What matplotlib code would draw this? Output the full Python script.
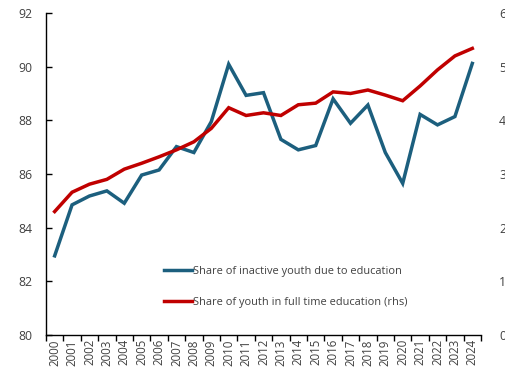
import numpy as np
import matplotlib.pyplot as plt

plt.rcParams['font.family'] = ['Open Sans', 'DejaVu Sans']

# Yearly series
years = [str(y) for y in range(2000, 2025)]
inactive_due_to_education = [82.95, 84.85, 85.18, 85.37, 84.91, 85.96, 86.15, 87.02, 86.8, 87.95,
                             90.09, 88.93, 89.03, 87.29, 86.9, 87.06, 88.8, 87.89, 88.57, 86.8,
                             85.65, 88.22, 87.83, 88.14, 90.12]
full_time_education = [23.0, 26.6, 28.1, 29.0, 30.9, 32.0, 33.2, 34.5, 36.0, 38.5,
                       42.35, 40.9, 41.4, 40.9, 42.9, 43.2, 45.3, 45.0, 45.65, 44.7,
                       43.65, 46.4, 49.4, 52.0, 53.4]

blue = '#1c5f7e'
red = '#c00000'
text_col = '#404040'

fig = plt.figure(figsize=(5.05, 3.68), dpi=100)
ax = fig.add_axes([0.091, 0.0897, 0.8615, 0.875])
ax2 = ax.twinx()

x = np.arange(len(years))
l1, = ax.plot(x, inactive_due_to_education, color=blue, lw=2.5,
              label='Share of inactive youth due to education', solid_joinstyle='miter')
l2, = ax2.plot(x, full_time_education, color=red, lw=2.5,
               label='Share of youth in full time education (rhs)', solid_joinstyle='miter')

ax.set_xlim(-0.5, len(years) - 0.5)
ax.set_ylim(80, 92)
ax.set_yticks(range(80, 93, 2))
ax2.set_ylim(0, 60)
ax2.set_yticks(range(0, 61, 10))

# category ticks sit between the years
ax.set_xticks(x)
ax.set_xticklabels(years, rotation=90, fontsize=8.3, color=text_col)
ax.set_xticks(np.arange(-0.5, len(years), 1), minor=True)
ax.tick_params(axis='x', which='major', length=0, pad=3)
ax.tick_params(axis='x', which='minor', length=4, direction='out', width=1)
ax.tick_params(axis='y', direction='in', length=4, width=1, labelsize=8.8, colors='black',
               labelcolor=text_col, pad=10)
ax2.tick_params(axis='y', length=0, labelsize=8.8, labelcolor=text_col, pad=13)

for s in ['top', 'right']:
    ax.spines[s].set_visible(False)
for s in ['top', 'right', 'left', 'bottom']:
    ax2.spines[s].set_visible(False)
ax.spines['left'].set_linewidth(1)
ax.spines['bottom'].set_linewidth(1)

leg = ax.legend(handles=[l1, l2], loc='center left', bbox_to_anchor=(0.272, 0.15),
                frameon=False, fontsize=7.9, handlelength=2.55, handletextpad=0.05,
                labelspacing=1.85, borderpad=0, borderaxespad=0, labelcolor=text_col)

fig.savefig('out.png', dpi=100)
